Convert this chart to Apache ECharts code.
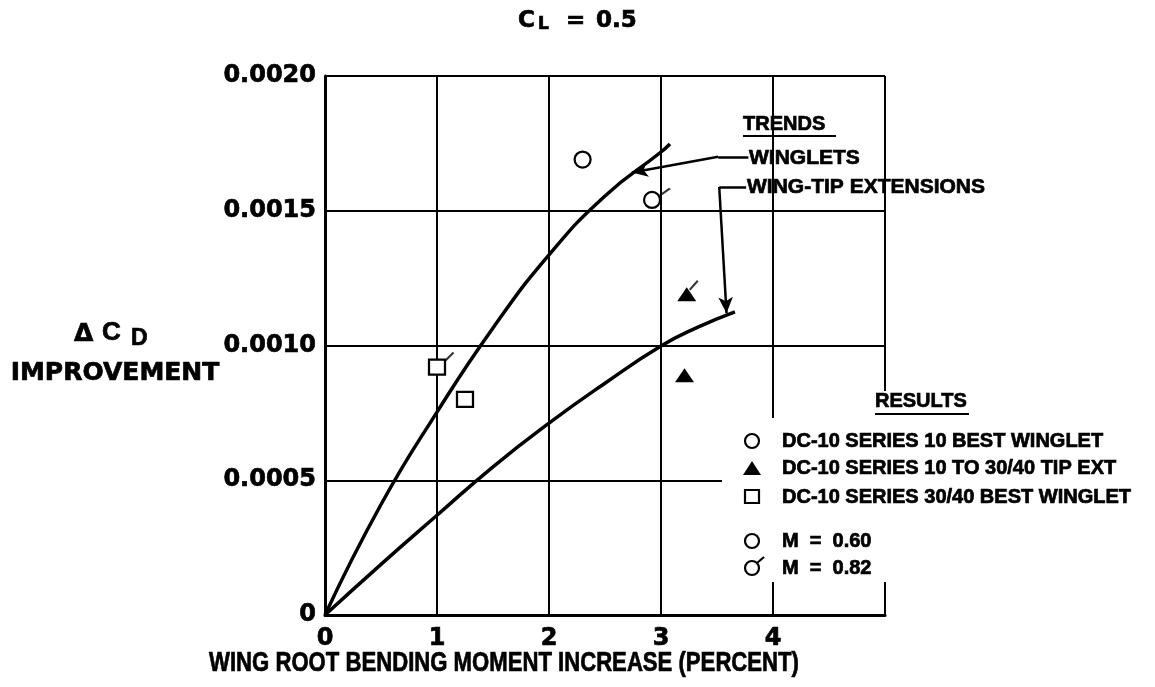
<!DOCTYPE html>
<html>
<head>
<meta charset="utf-8">
<script src="https://cdn.jsdelivr.net/npm/echarts@6/dist/echarts.min.js"></script>
<style>
html,body{margin:0;padding:0;background:#fff;}
#chart{width:1155px;height:687px;}
</style>
</head>
<body>
<div id="chart"></div>
<script>
// ---- data ----
const xTickLabels = ['0', '1', '2', '3', '4', ''];
const yTickLabels = ['0', '0.0005', '0.0010', '0.0015', '0.0020'];

// Trend curves
const wingletTrendX = [0, 0.5, 1.0, 1.5, 2.0, 2.5, 3.0, 3.08];
const wingletTrendY = [0, 0.00041, 0.000753, 0.001065, 0.001336, 0.001555, 0.001718, 0.001748];
const tipTrendX = [0, 0.5, 1.0, 1.5, 2.0, 2.5, 3.0, 3.33, 3.66];
const tipTrendY = [0, 0.000188, 0.00037, 0.00055, 0.000712, 0.00086, 0.000998, 0.001068, 0.001125];

// Results
const series10X = [2.30, 2.92];
const series10Y = [0.00169, 0.00154];
const series10Mach = [0.60, 0.82];
const tipExtX = [3.21, 3.23];
const tipExtY = [0.00089, 0.00119];
const tipExtMach = [0.60, 0.82];
const series3040X = [1.25, 1.00];
const series3040Y = [0.00080, 0.00092];
const series3040Mach = [0.60, 0.82];

// ---- build ----
const zip = (xs, ys) => xs.map((x, i) => [x, ys[i]]);
const FONT_D = "'DejaVu Sans', sans-serif";
const FONT_L = "'Liberation Sans', Arial, sans-serif";
const TICK_PATH = 'path://M0,10 L10,0';
const black = '#000';

function tickItems(xs, ys, ms, off) {
  const out = [];
  xs.forEach((x, i) => { if (ms[i] === 0.82) out.push({ value: [x, ys[i]], symbolOffset: off }); });
  return out;
}

const chart = echarts.init(document.getElementById('chart'), null, { renderer: 'canvas' });

const tickSeries = (data, size) => ({
  type: 'scatter', data: data, symbol: TICK_PATH, symbolSize: size, symbolKeepAspect: false,
  itemStyle: { color: 'none', borderColor: black, borderWidth: 2.2 }, z: 6, silent: true
});

function txt(text, x, y, font, align, extra, el) {
  return Object.assign({
    type: 'text', z: 120,
    style: Object.assign({ text: text, x: x, y: y, font: font, fill: black,
      stroke: black, lineWidth: 0.7,
      textAlign: align || 'left', textVerticalAlign: 'middle',
      align: align || 'left', verticalAlign: 'middle' }, extra || {})
  }, el || {});
}
function ln(x1, y1, x2, y2, w) {
  return { type: 'line', z: 120, shape: { x1, y1, x2, y2 }, style: { stroke: black, lineWidth: w || 2 } };
}

const legendX = 752, legendTextX = 782;
const graphics = [
  // white area behind results legend
  { type: 'rect', z: 100, shape: { x: 722, y: 418, width: 433, height: 164 }, style: { fill: '#fff' } },
  { type: 'rect', z: 100, shape: { x: 862, y: 391, width: 293, height: 30 }, style: { fill: '#fff' } },
  // title C_L = 0.5
  txt('C', 518, 21, "bold 23px " + FONT_D),
  txt('L', 538, 25, "bold 17px " + FONT_D),
  txt('=', 566, 21, "bold 23px " + FONT_D),
  txt('0.5', 596, 21, "bold 23px " + FONT_D),
  // y axis title
  txt('\u0394', 74, 334, "bold 25px " + FONT_D),
  txt('C', 102, 333, "bold 26px " + FONT_L),
  txt('D', 131, 339, "bold 23px " + FONT_L),
  txt('IMPROVEMENT', 115, 373, "bold 25px " + FONT_D, 'center'),
  // x axis title (condensed by horizontal scaling)
  txt('WING ROOT BENDING MOMENT INCREASE (PERCENT)', 0, 0,
      "bold 28px " + FONT_L, 'center', null, { x: 504, y: 663, scaleX: 0.79, scaleY: 1 }),
  // trends
  txt('TRENDS', 743, 124, "bold 20px " + FONT_L),
  ln(743, 136, 836, 136, 2),
  txt('WINGLETS', 749, 158, "bold 21px " + FONT_L),
  txt('WING-TIP EXTENSIONS', 747, 187, "bold 21px " + FONT_L),
  // results
  txt('RESULTS', 875, 401, "bold 20px " + FONT_L),
  ln(875, 414, 969, 414, 2),
  { type: 'circle', z: 120, shape: { cx: legendX, cy: 441, r: 7 }, style: { fill: '#fff', stroke: black, lineWidth: 2.2 } },
  txt('DC-10 SERIES 10 BEST WINGLET', legendTextX, 441, "bold 20px " + FONT_L),
  { type: 'polygon', z: 120, shape: { points: [[legendX - 9, 475], [legendX + 9, 475], [legendX, 461]] }, style: { fill: black } },
  txt('DC-10 SERIES 10 TO 30/40 TIP EXT', legendTextX, 468, "bold 20px " + FONT_L),
  { type: 'rect', z: 120, shape: { x: legendX - 7, y: 490, width: 14, height: 13 }, style: { fill: '#fff', stroke: black, lineWidth: 2.2 } },
  txt('DC-10 SERIES 30/40 BEST WINGLET', legendTextX, 497, "bold 20px " + FONT_L),
  { type: 'circle', z: 120, shape: { cx: legendX, cy: 541, r: 7 }, style: { fill: '#fff', stroke: black, lineWidth: 2.2 } },
  txt('M  =  0.60', legendTextX, 541, "bold 20px " + FONT_L),
  { type: 'circle', z: 120, shape: { cx: legendX, cy: 568, r: 7 }, style: { fill: '#fff', stroke: black, lineWidth: 2.2 } },
  ln(legendX + 5, 563, legendX + 12, 557, 2.2),
  txt('M  =  0.82', legendTextX, 568, "bold 20px " + FONT_L)
];

const labelCommon = {
  color: black, fontFamily: FONT_D, fontWeight: 'bold', fontSize: 24,
  textBorderColor: black, textBorderWidth: 0.7
};

const option = {
  animation: false,
  backgroundColor: '#fff',
  grid: { left: 325, right: 270, top: 76, bottom: 72, containLabel: false },
  xAxis: {
    type: 'value', min: 0, max: 5, interval: 1,
    axisLine: { show: true, onZero: false, lineStyle: { color: black, width: 3 } },
    axisTick: { show: false },
    splitLine: { show: true, lineStyle: { color: black, width: 2 } },
    axisLabel: Object.assign({}, labelCommon, {
      margin: 12, formatter: (v) => xTickLabels[Math.round(v)]
    })
  },
  yAxis: {
    type: 'value', min: 0, max: 0.002, interval: 0.0005,
    axisLine: { show: true, onZero: false, lineStyle: { color: black, width: 3 } },
    axisTick: { show: false },
    splitLine: { show: true, lineStyle: { color: black, width: 2 } },
    axisLabel: Object.assign({}, labelCommon, {
      margin: 9, formatter: (v) => yTickLabels[Math.round(v / 0.0005)]
    })
  },
  series: [
    {
      name: 'Winglets', type: 'line', data: zip(wingletTrendX, wingletTrendY),
      smooth: 0.5,
      symbol: 'none', lineStyle: { color: black, width: 3.5 }, z: 4,
      markLine: {
        silent: true, animation: false, label: { show: false },
        lineStyle: { color: black, width: 2.5, type: 'solid' },
        symbolSize: [11, 16],
        data: [
          [{ coord: [3.78, 0.00170], symbol: 'none' }, { coord: [3.51, 0.00170], symbol: 'none' }],
          [{ coord: [3.51, 0.00170], symbol: 'none' }, { coord: [2.74, 0.001642], symbol: 'arrow' }],
          [{ coord: [3.76, 0.001588], symbol: 'none' }, { coord: [3.52, 0.001588], symbol: 'none' }],
          [{ coord: [3.52, 0.001588], symbol: 'none' }, { coord: [3.585, 0.00112], symbol: 'arrow' }]
        ]
      }
    },
    {
      name: 'Wing-tip extensions', type: 'line', data: zip(tipTrendX, tipTrendY),
      smooth: 0.5,
      symbol: 'none', lineStyle: { color: black, width: 3.5 }, z: 4
    },
    {
      name: 'DC-10 Series 10 best winglet', type: 'scatter', data: zip(series10X, series10Y),
      symbol: 'circle', symbolSize: 16, itemStyle: { color: '#fff', borderColor: black, borderWidth: 2.2, opacity: 1 }, z: 5
    },
    {
      name: 'DC-10 Series 10 to 30/40 tip ext', type: 'scatter', data: zip(tipExtX, tipExtY),
      symbol: 'triangle', symbolSize: [19, 14], itemStyle: { color: black, opacity: 1 }, z: 5
    },
    {
      name: 'DC-10 Series 30/40 best winglet', type: 'scatter', data: zip(series3040X, series3040Y),
      symbol: 'rect', symbolSize: [16, 15], itemStyle: { color: '#fff', borderColor: black, borderWidth: 2.2, opacity: 1 }, z: 5
    },
    tickSeries(tickItems(series10X, series10Y, series10Mach, [13, -8]), [10, 7]),
    tickSeries(tickItems(tipExtX, tipExtY, tipExtMach, [7, -9]), [8, 9]),
    tickSeries(tickItems(series3040X, series3040Y, series3040Mach, [12.5, -10.5]), [8, 8])
  ],
  graphic: { elements: graphics }
};
chart.setOption(option);
</script>
</body>
</html>
